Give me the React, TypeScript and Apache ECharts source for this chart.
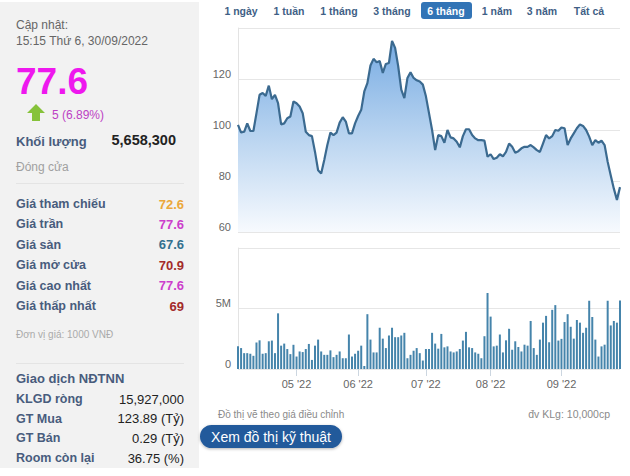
import React, { useEffect, useRef } from "react";
import * as echarts from "echarts";

// ---- trading days (Apr–Sep 2022) ----
const aprDays = [4, 5, 6, 7, 8, 12, 13, 14, 15, 18, 19, 20, 21, 22, 25, 26, 27, 28, 29];
const mayDays = [4, 5, 6, 9, 10, 11, 12, 13, 16, 17, 18, 19, 20, 23, 24, 25, 26, 27, 30, 31];
const junDays = [1, 2, 3, 6, 7, 8, 9, 10, 13, 14, 15, 16, 17, 20, 21, 22, 23, 24, 27, 28, 29, 30];
const julDays = [1, 4, 5, 6, 7, 8, 11, 12, 13, 14, 15, 18, 19, 20, 21, 22, 25, 26, 27, 28, 29];
const augDays = [1, 2, 3, 4, 5, 8, 9, 10, 11, 12, 15, 16, 17, 18, 19, 22, 23, 24, 25, 26, 29, 30, 31];
const sepDays = [5, 6, 7, 8, 9, 12, 13, 14, 15, 16, 19, 20, 21, 22, 23, 26, 27, 28, 29, 30];

// ---- closing price (1000 VND) ----
const closePrices = [
  102, 99, 99.3, 102.6, 99.6, 99.6, 106.6, 113.8, 114.5, 113.4,
  117.4, 112.1, 113.8, 110.5, 102.2, 102.6, 104.6, 105.3, 111.2, 110.5,
  109.2, 106.6, 99.3, 98, 97.6, 91.4, 84.2, 82.9, 88.2, 94.1,
  99, 98, 99, 102.9, 105, 103.3, 98.7, 98.7, 102.6, 105.5,
  107.9, 115.1, 118.4, 125.3, 127.9, 126.6, 127, 122.4, 125.9, 126.3,
  134.9, 132.2, 125, 115.8, 112.5, 120.4, 122.6, 120.4, 119.5, 119,
  117.8, 113.2, 106.6, 100, 92.1, 98, 97.6, 95, 100, 97.1,
  96.7, 95.4, 93.2, 97.6, 100.3, 100.3, 98, 96.7, 96, 96,
  95.8, 89.5, 90.5, 88.6, 89.1, 90.5, 89.7, 91.4, 94.7, 93.4,
  91.1, 91.7, 92.8, 93.4, 93.4, 94.1, 93.2, 92.1, 91.4, 94.7,
  98, 96.7, 97.6, 100, 99.7, 101, 100.7, 94.1, 96.7, 98.7,
  100.7, 102.2, 101.6, 100, 97.4, 94.1, 96, 95, 95.8, 94.1,
  87.5, 82.2, 77, 72.6, 77.6,
];

// ---- volume (million shares) ----
const volumesM = [
  1.87, 1.73, 1.31, 1.31, 1.26, 1.09, 2.2, 2.37, 1.26, 1.31,
  2.29, 2.35, 1.31, 4.6, 1.93, 2.1, 1.65, 1.23, 2.0, 1.03,
  1.45, 1.4, 1.65, 2.07, 0.75, 1.93, 2.43, 1.45, 1.17, 1.17,
  1.54, 0.98, 1.17, 1.45, 0.89, 0.89, 2.85, 1.03, 1.26, 1.51,
  1.93, 0.25, 4.53, 2.43, 1.37, 1.37, 3.41, 2.51, 1.73, 2.77,
  3.41, 2.63, 2.63, 2.77, 2.99, 0.89, 1.17, 1.51, 1.73, 1.31,
  0.7, 1.65, 1.65, 2.99, 2.1, 1.68, 2.9, 1.79, 1.87, 1.45,
  1.37, 1.45, 1.65, 2.35, 3.07, 1.79, 1.73, 1.37, 1.26, 0.89,
  2.71, 6.28, 4.33, 1.87, 1.93, 2.85, 1.37, 2.37, 3.32, 1.59,
  2.29, 1.82, 1.45, 2.01, 1.93, 3.97, 1.73, 1.17, 2.43, 3.83,
  4.39, 2.21, 4.89, 5.28, 2.35, 2.49, 3.88, 4.53, 3.49, 2.51,
  4.05, 3.83, 2.99, 3.41, 5.64, 4.3, 2.43, 1.03, 1.87, 2.01,
  5.64, 3.6, 3.97, 3.83, 5.66,
];

// ---- axis ticks ----
const priceTicks = [60, 80, 100, 120, 140];
const volumeTicks = [0, 5, 10];

// ---- side panel texts ----
const rangeTabs = ["1 ngày", "1 tuần", "1 tháng", "3 tháng", "6 tháng", "1 năm", "3 năm", "Tất cả"];
const rangeTabX = [241, 289, 339, 392, 446, 497, 542, 589];
const activeTab = "6 tháng";
const priceRowLabels = ["Giá tham chiếu", "Giá trần", "Giá sàn", "Giá mở cửa", "Giá cao nhất", "Giá thấp nhất"];
const priceRowValues = ["72.6", "77.6", "67.6", "70.9", "77.6", "69"];
const priceRowColors = ["#eba73a", "#cc3fcc", "#33708f", "#a32a2a", "#cc3fcc", "#a32a2a"];
const foreignLabels = ["KLGD ròng", "GT Mua", "GT Bán", "Room còn lại"];
const foreignValues = ["15,927,000", "123.89 (Tỷ)", "0.29 (Tỷ)", "36.75 (%)"];

const pad = (d: number) => (d < 10 ? "0" + d : "" + d);
const categories = [
  ...aprDays.map((d) => `2022-04-${pad(d)}`),
  ...mayDays.map((d) => `2022-05-${pad(d)}`),
  ...junDays.map((d) => `2022-06-${pad(d)}`),
  ...julDays.map((d) => `2022-07-${pad(d)}`),
  ...augDays.map((d) => `2022-08-${pad(d)}`),
  ...sepDays.map((d) => `2022-09-${pad(d)}`),
];
const monthStart = new Set<number>();
categories.forEach((c, i) => {
  if (i > 0 && c.slice(5, 7) !== categories[i - 1].slice(5, 7)) monthStart.add(i);
});

const FF = '"Liberation Sans", Arial, sans-serif';
const SLATE = "#485c7d";

function txt(x: number, y: number, text: string, font: string, fill: string, align = "left") {
  return {
    type: "text",
    x,
    y,
    silent: true,
    style: { text, font, fill, align, verticalAlign: "middle" },
  };
}

export default function App() {
  const ref = useRef<HTMLDivElement>(null);
  useEffect(() => {
    if (!ref.current) return;
    const chart = echarts.init(ref.current, undefined, { renderer: "svg" });

    const graphics: any[] = [];
    // left panel
    graphics.push({ type: "rect", z: -10, silent: true, shape: { x: 0, y: 2, width: 199, height: 466 }, style: { fill: "#f2f2f2" } });
    graphics.push(txt(16, 25, "Cập nhật:", `12px ${FF}`, "#666"));
    graphics.push(txt(16, 41, "15:15 Thứ 6, 30/09/2022", `12px ${FF}`, "#666"));
    graphics.push(txt(16, 81, "77.6", `bold 37px ${FF}`, "#ee18ee"));
    graphics.push({
      type: "polygon",
      silent: true,
      shape: { points: [[36, 104], [45, 113], [40, 113], [40, 121], [32, 121], [32, 113], [27, 113]] },
      style: { fill: "#86c23a" },
    });
    graphics.push(txt(52, 115, "5 (6.89%)", `12px ${FF}`, "#bd3fc4"));
    graphics.push(txt(16, 141, "Khối lượng", `bold 13px ${FF}`, SLATE));
    graphics.push(txt(176, 140, "5,658,300", `bold 14.5px ${FF}`, "#222", "right"));
    graphics.push(txt(16, 167, "Đóng cửa", `12px ${FF}`, "#a0a0a0"));
    graphics.push({ type: "line", silent: true, shape: { x1: 16, y1: 183.5, x2: 184, y2: 183.5 }, style: { stroke: "#e4e4e4", lineWidth: 1 } });
    priceRowLabels.forEach((l, i) => {
      const y = 204 + i * 20.4;
      graphics.push(txt(16, y, l, `bold 12.5px ${FF}`, SLATE));
      graphics.push(txt(184, y, priceRowValues[i], `bold 13px ${FF}`, priceRowColors[i], "right"));
    });
    graphics.push(txt(16, 334, "Đơn vị giá: 1000 VNĐ", `10px ${FF}`, "#aaa"));
    graphics.push({ type: "line", silent: true, shape: { x1: 16, y1: 363.5, x2: 184, y2: 363.5 }, style: { stroke: "#e4e4e4", lineWidth: 1 } });
    graphics.push(txt(16, 378, "Giao dịch NĐTNN", `bold 13px ${FF}`, SLATE));
    foreignLabels.forEach((l, i) => {
      const y = 399 + i * 19.7;
      graphics.push(txt(16, y, l, `bold 12.5px ${FF}`, SLATE));
      graphics.push(txt(184, y, foreignValues[i], `13px ${FF}`, "#222", "right"));
    });

    // range tabs
    rangeTabs.forEach((t, i) => {
      const active = t === activeTab;
      if (active) {
        graphics.push({ type: "rect", silent: true, shape: { x: 421, y: 2, width: 51, height: 17, r: 3 }, style: { fill: "#3274b6" } });
      }
      graphics.push(txt(rangeTabX[i], 11, t, `bold 10.5px ${FF}`, active ? "#fff" : "#3f5f86", "center"));
    });

    // footnotes
    graphics.push(txt(218, 414, "Đồ thị vẽ theo giá điều chỉnh", `10px ${FF}`, "#8a8a8a"));
    graphics.push(txt(610, 414, "đv KLg: 10,000cp", `10.5px ${FF}`, "#8a8a8a", "right"));
    graphics.push({
      type: "rect",
      silent: true,
      shape: { x: 200, y: 425, width: 142, height: 23, r: 11.5 },
      style: { fill: "#245a9b", shadowBlur: 3, shadowColor: "rgba(0,0,0,0.3)", shadowOffsetY: 1 },
    });
    graphics.push(txt(271, 436.5, "Xem đồ thị kỹ thuật", `14px ${FF}`, "#fff", "center"));

    const axisLabelStyle = { color: "#666", fontSize: 11, fontFamily: FF };

    chart.setOption({
      animation: false,
      textStyle: { fontFamily: FF },
      graphic: graphics,
      grid: [
        { left: 238, top: 28, width: 382, height: 204 },
        { left: 238, top: 248, width: 382, height: 121 },
      ],
      xAxis: [
        {
          type: "category",
          gridIndex: 0,
          data: categories,
          boundaryGap: false,
          axisLine: { show: false },
          axisTick: { show: false },
          axisLabel: { show: false },
        },
        {
          type: "category",
          gridIndex: 1,
          data: categories,
          boundaryGap: false,
          axisLine: { show: false },
          axisTick: {
            show: true,
            length: 7,
            interval: (idx: number) => monthStart.has(idx),
            lineStyle: { color: "#ccd6e0" },
          },
          axisLabel: {
            ...axisLabelStyle,
            margin: 9,
            interval: (idx: number) => monthStart.has(idx),
            formatter: (v: string) => `${v.slice(5, 7)} '${v.slice(2, 4)}`,
          },
        },
      ],
      yAxis: [
        {
          type: "value",
          gridIndex: 0,
          min: priceTicks[0],
          max: priceTicks[priceTicks.length - 1],
          interval: 20,
          axisLine: { show: true, lineStyle: { color: "#e3e3e3" } },
          axisTick: { show: false },
          splitLine: { show: true, lineStyle: { color: "#e6e6e6" } },
          axisLabel: { ...axisLabelStyle, margin: 7, verticalAlign: "bottom", showMaxLabel: false },
        },
        {
          type: "value",
          gridIndex: 1,
          min: volumeTicks[0],
          max: volumeTicks[volumeTicks.length - 1],
          interval: 5,
          axisLine: { show: true, lineStyle: { color: "#e3e3e3" } },
          axisTick: { show: false },
          splitLine: { show: true, lineStyle: { color: "#e6e6e6" } },
          axisLabel: {
            ...axisLabelStyle,
            margin: 7,
            verticalAlign: "bottom",
            showMaxLabel: false,
            formatter: (v: number) => (v === 0 ? "0" : `${v}M`),
          },
        },
      ],
      series: [
        {
          type: "line",
          xAxisIndex: 0,
          yAxisIndex: 0,
          data: closePrices,
          showSymbol: false,
          lineStyle: { color: "#3b6a90", width: 2.2 },
          areaStyle: {
            opacity: 1,
            color: new echarts.graphic.LinearGradient(0, 0, 0, 1, [
              { offset: 0, color: "#78ace3" },
              { offset: 0.5, color: "#b9d4f0" },
              { offset: 1, color: "#f7fafe" },
            ]),
          },
        },
        {
          type: "bar",
          xAxisIndex: 1,
          yAxisIndex: 1,
          data: volumesM,
          barWidth: 2,
          itemStyle: { color: "#4584ab" },
        },
      ],
    });
    return () => chart.dispose();
  }, []);
  return (
    <div
      ref={ref}
      style={{ position: "absolute", left: 0, top: 0, width: 630, height: 476, background: "#fff" }}
    />
  );
}
